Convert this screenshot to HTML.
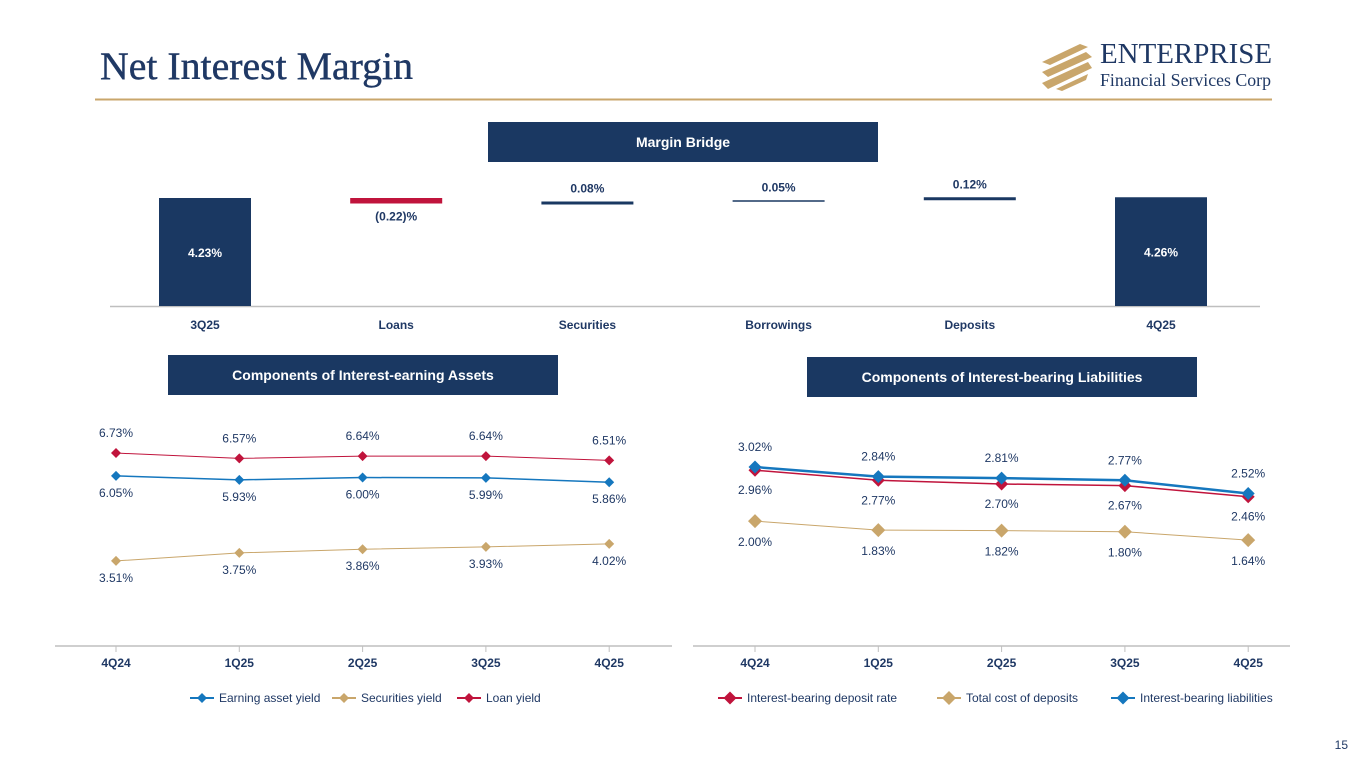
<!DOCTYPE html>
<html><head><meta charset="utf-8"><style>
body{margin:0;width:1365px;height:768px;background:#fff;overflow:hidden;font-family:"Liberation Sans",sans-serif;}
svg{display:block}
</style></head><body>
<svg id="s" width="1365" height="768" xmlns="http://www.w3.org/2000/svg">
<text x="100" y="79" font-family="Liberation Serif,serif" font-size="39" fill="#1f3864" stroke="#1f3864" stroke-width="0.4" textLength="313" lengthAdjust="spacingAndGlyphs">Net Interest Margin</text>
<line x1="95" y1="99.5" x2="1272" y2="99.5" stroke="#c9a66b" stroke-width="2"/>
<g>
<g fill="#c9a66b">
<polygon points="1042,62 1080,44 1088,47 1050,65"/>
<polygon points="1042,72 1086,52 1092,57 1048,77"/>
<polygon points="1042,83 1088,62 1092,68 1048,89"/>
<polygon points="1056,89 1088,74 1086,80 1062,91"/>
</g>
<text x="1100" y="63" font-family="Liberation Serif,serif" font-size="29" fill="#1f3864" textLength="172" lengthAdjust="spacingAndGlyphs">ENTERPRISE</text>
<text x="1100" y="86" font-family="Liberation Serif,serif" font-size="18" fill="#1f3864" textLength="171" lengthAdjust="spacingAndGlyphs">Financial Services Corp</text>
</g>
<rect x="488" y="122" width="390" height="40" fill="#1a3862"/>
<text x="683" y="147" text-anchor="middle" font-size="14" font-weight="bold" fill="#fff">Margin Bridge</text>
<rect x="168" y="355" width="390" height="40" fill="#1a3862"/>
<text x="363" y="380" text-anchor="middle" font-size="14" font-weight="bold" fill="#fff">Components of Interest-earning Assets</text>
<rect x="807" y="357" width="390" height="40" fill="#1a3862"/>
<text x="1002" y="382" text-anchor="middle" font-size="14" font-weight="bold" fill="#fff">Components of Interest-bearing Liabilities</text>
<text x="1348" y="749" text-anchor="end" font-size="12" fill="#1f3864">15</text>
<g id="bridge"></g>
<g id="left"></g>
<g id="right"></g>
</svg>
<script>
const NS="http://www.w3.org/2000/svg";
const bridgeCats=["3Q25","Loans","Securities","Borrowings","Deposits","4Q25"];
const bridgeVals=[4.23,-0.22,0.08,0.05,0.12,4.26];
const bridgeLabels=["4.23%","(0.22)%","0.08%","0.05%","0.12%","4.26%"];
const qCats=["4Q24","1Q25","2Q25","3Q25","4Q25"];
const earningYield=[6.05,5.93,6.00,5.99,5.86];
const securitiesYield=[3.51,3.75,3.86,3.93,4.02];
const loanYield=[6.73,6.57,6.64,6.64,6.51];
const depositRate=[2.96,2.77,2.70,2.67,2.46];
const totalCost=[2.00,1.83,1.82,1.80,1.64];
const liabilities=[3.02,2.84,2.81,2.77,2.52];

function el(p,t,a){const e=document.createElementNS(NS,t);for(const k in a)e.setAttribute(k,a[k]);p.appendChild(e);return e;}
function txt(p,x,y,s,o){const e=el(p,"text",Object.assign({x:x,y:y,"text-anchor":"middle","font-size":12,fill:"#1f3864"},o||{}));e.textContent=s;return e;}

// bridge
(function(){
 const g=document.getElementById("bridge");
 const bx=i=>205+i*191.2, bw=92;
 const by=v=>306-(v+0.09)*25;
 const ax=el(g,"line",{x1:110,y1:306.5,x2:1260,y2:306.5,stroke:"#bfbfbf","stroke-width":1.5});
 
 
 let cum=0;
 bridgeVals.forEach((v,i)=>{
  const last=i===bridgeVals.length-1;
  let y0,y1,color="#1a3862";
  if(i===0||last){y0=by(v);y1=306;cum=v;}
  else{const a=cum,b=cum+v;cum=b;y0=Math.min(by(a),by(b));y1=Math.max(by(a),by(b));if(v<0)color="#c0143c";}
  const h=Math.max(y1-y0,(i===3)?1.5:3);
  const r=el(g,"rect",{x:bx(i)-bw/2,y:y0,width:bw,height:h,fill:color});
  
  
  let t;
  if(i===0||last) t=txt(g,bx(i),(y0+306)/2+5,bridgeLabels[i],{fill:"#fff","font-weight":"bold"});
  else if(v<0) t=txt(g,bx(i),y0+h+17,bridgeLabels[i],{"font-weight":"bold"});
  else t=txt(g,bx(i),y0-9,bridgeLabels[i],{"font-weight":"bold"});
  
  
  const c=txt(g,bx(i),329,bridgeCats[i],{"font-weight":"bold"});
  
  
 });
})();

function diamond(p,x,y,r,c){return el(p,"polygon",{points:`${x},${y-r} ${x+r},${y} ${x},${y+r} ${x-r},${y}`,fill:c});}

function lineChart(gid,x0,step,ax1,ax2,ys,series,legend){
 const g=document.getElementById(gid);
 const xs=i=>x0+i*step;
 const a=el(g,"line",{x1:ax1,y1:646,x2:ax2,y2:646,stroke:"#bfbfbf","stroke-width":1.5});
 
 
 qCats.forEach((c,i)=>{
  const tk=el(g,"line",{x1:xs(i),y1:646,x2:xs(i),y2:652,stroke:"#bfbfbf"});
  
  
  const t=txt(g,xs(i),667,c,{"font-weight":"bold"});
  
  
 });
 series.forEach(s=>{
  const pts=s.data.map((v,i)=>xs(i)+","+ys(v)).join(" ");
  const pl=el(g,"polyline",{points:pts,fill:"none",stroke:s.color,"stroke-width":s.w});
  
  
  s.data.forEach((v,i)=>{
   const d=diamond(g,xs(i),ys(v),s.r,s.color);
   
   
   const t=txt(g,xs(i),ys(v)+s.off(i),v.toFixed(2)+"%");
   
   
  });
 });
 legend.forEach(L=>{
  const s=series[L.si];
  const ln=el(g,"line",{x1:L.x,y1:698,x2:L.x+24,y2:698,stroke:s.color,"stroke-width":2});
  
  
  const d=diamond(g,L.x+12,698,s.r,s.color);
  
  
  const t=txt(g,L.x+29,702,L.label,{"text-anchor":"start"});
  
  
 });
}

lineChart("left",116,123.3,55,672,v=>643-(v-1.06)*33.5,[
 {name:"securities-yield",data:securitiesYield,color:"#c9a66b",w:1,r:5,off:()=>21},
 {name:"loan-yield",data:loanYield,color:"#c0143c",w:1,r:5,off:()=>-16},
 {name:"earning-asset-yield",data:earningYield,color:"#1577be",w:1.5,r:5,off:()=>21}
],[{x:190,si:2,label:"Earning asset yield"},{x:332,si:0,label:"Securities yield"},{x:457,si:1,label:"Loan yield"}]);

lineChart("right",755,123.3,693,1290,v=>643-(v+0.3)*53,[
 {name:"total-cost-of-deposits",data:totalCost,color:"#c9a66b",w:1,r:7,off:()=>25},
 {name:"interest-bearing-deposit-rate",data:depositRate,color:"#c0143c",w:1.5,r:6.5,off:()=>24},
 {name:"interest-bearing-liabilities",data:liabilities,color:"#1577be",w:2.5,r:6.5,off:()=>-16}
],[{x:718,si:1,label:"Interest-bearing deposit rate"},{x:937,si:0,label:"Total cost of deposits"},{x:1111,si:2,label:"Interest-bearing liabilities"}]);
</script>
</body></html>
